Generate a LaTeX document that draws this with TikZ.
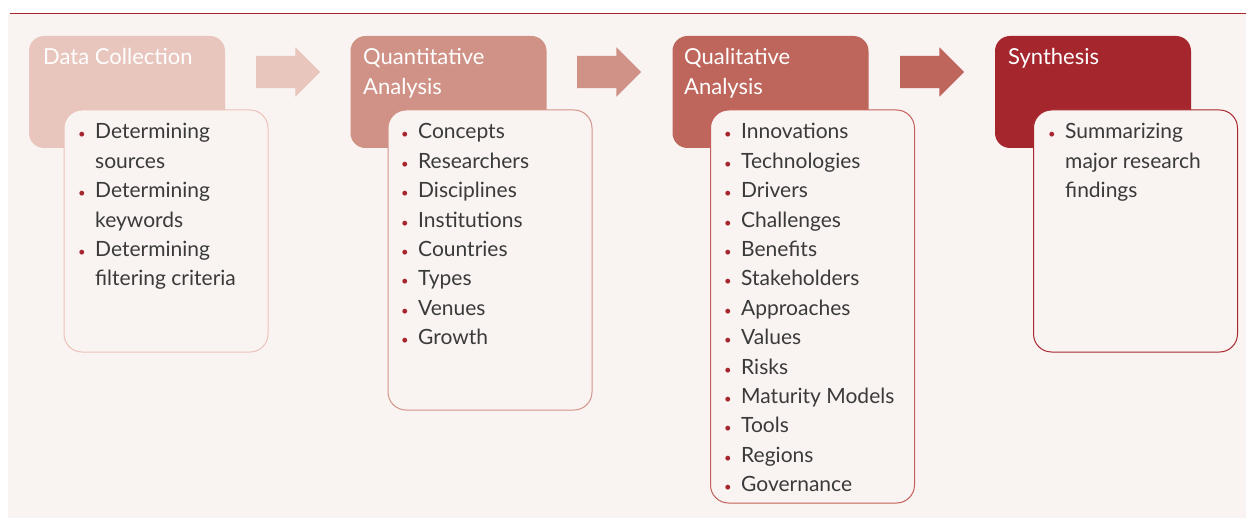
\documentclass[tikz,border=0pt]{standalone}
\usepackage{fontspec}
\setmainfont{Lato}
\usetikzlibrary{shapes.arrows}
\usepackage{xcolor}

\definecolor{bgc}{HTML}{F9F3F1}
\definecolor{linec}{HTML}{A6262E}
\definecolor{c1}{HTML}{E8C6BE}
\definecolor{c2}{HTML}{D09286}
\definecolor{c3}{HTML}{BE665C}
\definecolor{c4}{HTML}{A6262E}
\definecolor{b1}{HTML}{EBC3BB}
\definecolor{b2}{HTML}{D4958A}
\definecolor{b3}{HTML}{C4605A}
\definecolor{b4}{HTML}{A82830}
\definecolor{bulc}{HTML}{A6262E}
\definecolor{txtc}{HTML}{3A3A3A}

\newcommand{\itm}{\makebox[17pt][l]{\textcolor{bulc}{\fontsize{13}{13}\selectfont •}}}

\begin{document}
\begin{tikzpicture}[x=1pt,y=-1pt,
  head/.style={rounded corners=15pt,minimum width=196pt,minimum height=112pt,inner sep=0pt},
  detail/.style={rounded corners=18pt,minimum width=204pt,fill=bgc,line width=1pt,inner sep=0pt},
  title/.style={anchor=base west,inner sep=0pt,text=white,font=\fontsize{22}{30}\selectfont},
  list/.style={anchor=base west,inner sep=0pt,text=txtc,font=\fontsize{21}{29.4}\selectfont},
  blockarrow/.style={single arrow,minimum height=64pt,text height=16pt,text depth=16pt,text width=0pt,single arrow head extend=8.5pt,inner sep=0pt}]
\useasboundingbox (0,0) rectangle (1246,518);
\fill[white] (0,0) rectangle (1246,518);
\fill[bgc] (8,14) rectangle (1246,518);
\draw[linec,line width=1.2pt] (10,13.5) -- (1246,13.5);

% stage headers
\node [head,fill=c1] (dc) at (127,92) {};
\node [head,fill=c2] (qn) at (448.5,92) {};
\node [head,fill=c3] (ql) at (770.5,92) {};
\node [head,fill=c4] (sy) at (1093,92) {};

\node [title] (dct) at (43,65) {Data Collection};
\node [title] (qnt) at (363,65) {\begin{tabular}[t]{@{}l@{}}Quantitative\\Analysis\end{tabular}};
\node [title] (qlt) at (684,65) {\begin{tabular}[t]{@{}l@{}}Qualitative\\Analysis\end{tabular}};
\node [title] (syt) at (1008,65) {Synthesis};

% arrows between stages
\node [blockarrow,fill=c1] (ar1) at (280,72) {};
\node [blockarrow,fill=c2] (ar2) at (601,72) {};
\node [blockarrow,fill=c3] (ar3) at (924,72) {};

% detail boxes
\node [detail,draw=b1,minimum height=242pt] (dcbox) at (166,231) {};
\node [detail,draw=b2,minimum height=300pt] (qnbox) at (490,260) {};
\node [detail,draw=b3,minimum height=393pt] (qlbox) at (812.5,306.5) {};
\node [detail,draw=b4,minimum height=242pt] (sybox) at (1135.5,231) {};

\node [list] (dcl) at (78,139) {\begin{tabular}[t]{@{}l@{}l@{}}
\itm & Determining\\ & sources\\
\itm & Determining\\ & keywords\\
\itm & Determining\\ & filtering criteria
\end{tabular}};
\node [list] (qnl) at (401,139) {\begin{tabular}[t]{@{}l@{}l@{}}
\itm & Concepts\\ \itm & Researchers\\ \itm & Disciplines\\ \itm & Institutions\\
\itm & Countries\\ \itm & Types\\ \itm & Venues\\ \itm & Growth
\end{tabular}};
\node [list] (qll) at (724,139) {\begin{tabular}[t]{@{}l@{}l@{}}
\itm & Innovations\\ \itm & Technologies\\ \itm & Drivers\\ \itm & Challenges\\
\itm & Benefits\\ \itm & Stakeholders\\ \itm & Approaches\\ \itm & Values\\
\itm & Risks\\ \itm & Maturity Models\\ \itm & Tools\\ \itm & Regions\\
\itm & Governance
\end{tabular}};
\node [list] (syl) at (1048,139) {\begin{tabular}[t]{@{}l@{}l@{}}
\itm & Summarizing\\ & major research\\ & findings
\end{tabular}};
\end{tikzpicture}
\end{document}
